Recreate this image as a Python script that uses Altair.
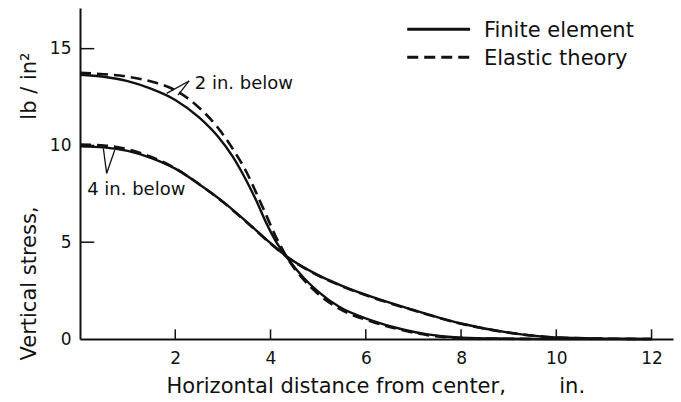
import altair as alt
import pandas as pd

FONT = "DejaVu Sans"
INK = "#111111"
NB = "\u00a0"

# Horizontal distance from center (in.) and vertical stress (lb/in^2)
fe2_x = [0, 0.5, 1.0, 1.5, 2.0, 2.5, 2.9, 3.2, 3.5, 3.7, 3.9, 4.1, 4.35, 4.7, 5.0, 5.45, 6.1, 6.8, 7.3, 8.0, 9.0, 10.0, 12.0]
fe2_y = [13.65, 13.55, 13.32, 12.92, 12.35, 11.45, 10.45, 9.45, 8.15, 7.15, 6.05, 5.1, 4.2, 3.15, 2.45, 1.65, 0.98, 0.48, 0.24, 0.07, 0.02, 0.0, 0.0]

el2_x = [0, 0.5, 1.0, 1.5, 2.0, 2.5, 2.9, 3.2, 3.5, 3.7, 3.9, 4.1, 4.35, 4.7, 5.0, 5.45, 6.1, 6.8, 7.3, 8.0, 9.0, 9.6]
el2_y = [13.75, 13.68, 13.55, 13.3, 12.85, 11.95, 10.9, 9.85, 8.6, 7.55, 6.45, 5.35, 4.2, 3.05, 2.33, 1.55, 0.92, 0.44, 0.2, 0.05, 0.01, 0.0]

fe4_x = [0, 0.5, 1.0, 1.5, 2.0, 2.5, 3.0, 3.5, 4.0, 4.35, 5.0, 5.5, 6.1, 7.0, 8.0, 9.0, 10.0, 11.0, 12.0]
fe4_y = [9.95, 9.9, 9.72, 9.35, 8.8, 8.0, 7.1, 6.05, 4.95, 4.25, 3.3, 2.75, 2.2, 1.5, 0.8, 0.33, 0.08, 0.02, 0.0]

el4_x = [0, 0.5, 1.0, 1.5, 2.0, 2.5, 3.0, 3.5, 4.0, 4.35, 5.0, 5.5, 6.1, 7.0, 8.0, 9.0, 10.0, 11.0, 12.0]
el4_y = [10.05, 10.0, 9.8, 9.4, 8.82, 8.0, 7.08, 6.03, 4.93, 4.23, 3.28, 2.73, 2.18, 1.48, 0.79, 0.33, 0.08, 0.02, 0.0]

methods = ["Finite element", "Elastic theory"]
dashes = [[1, 0], [11, 6]]

x_ticks = [2, 4, 6, 8, 10, 12]
y_ticks = [0, 5, 10, 15]
y_inner_ticks = [5, 10, 15]

# depth labels and their pointers
depth_labels = ["2 in. below", "4 in. below"]
depth_label_x = [2.41, 0.15]
depth_label_y = [13.17, 7.7]
pointer_x = [2.29, 2.29, 0.56, 0.56]
pointer_y = [13.33, 13.33, 8.56, 8.56]
pointer_x2 = [1.82, 2.06, 0.49, 0.73]
pointer_y2 = [12.69, 12.6, 9.85, 9.76]

# key entries
key_y = [16.0, 14.55]
key_x0 = 6.87
key_x1 = 8.19
key_xt = 8.48


def series(xs, ys, method, depth):
    return pd.DataFrame({"x": xs, "stress": ys, "method": method, "series": f"{method} {depth}"})


curves = pd.concat([
    series(fe2_x, fe2_y, methods[0], "2 in."),
    series(fe4_x, fe4_y, methods[0], "4 in."),
    series(el2_x, el2_y, methods[1], "2 in."),
    series(el4_x, el4_y, methods[1], "4 in."),
], ignore_index=True)

xs = alt.Scale(domain=[0, 12.45], nice=False, zero=False)
ys = alt.Scale(domain=[0, 17.1], nice=False)
dash_scale = alt.Scale(domain=methods, range=dashes)

x_axis = alt.Axis(
    values=x_ticks, format="d", tickSize=0, labelPadding=11,
    labelFont=FONT, labelFontSize=17, labelColor=INK,
    domainColor=INK, domainWidth=2, grid=False,
    title="Horizontal distance from center," + NB * 8 + "in.",
    titleFont=FONT, titleFontSize=21, titleFontWeight="normal", titleColor=INK,
    titleX=86, titleY=53, titleAlign="left", titleBaseline="alphabetic",
)
y_axis = alt.Axis(
    values=y_ticks, format="d", tickSize=0, labelPadding=9,
    labelFont=FONT, labelFontSize=17, labelColor=INK,
    domainColor=INK, domainWidth=2, grid=False,
    title="Vertical stress," + NB * 13 + "lb / in\u00b2",
    titleFont=FONT, titleFontSize=21, titleFontWeight="normal", titleColor=INK,
    titleX=-45, titleY=198, titleAngle=270, titleAlign="center", titleBaseline="alphabetic",
)

X = alt.X("x:Q", scale=xs, axis=x_axis)
Y = alt.Y("stress:Q", scale=ys, axis=y_axis)

solid = alt.Chart(curves[curves.method == methods[0]]).mark_line(
    interpolate="monotone", strokeWidth=2.4, color=INK
).encode(x=X, y=Y, detail="series:N")

dashed = alt.Chart(curves[curves.method == methods[1]]).mark_line(
    interpolate="monotone", strokeWidth=2.6, color=INK, strokeDash=dashes[1]
).encode(x=X, y=Y, detail="series:N")

# inward tick marks
xt_df = pd.DataFrame({"x": x_ticks, "stress": [0] * len(x_ticks), "y2": [0.5] * len(x_ticks)})
x_tick_marks = alt.Chart(xt_df).mark_rule(color=INK, strokeWidth=1.5).encode(
    x=X, y=Y, y2="y2:Q"
)
yt_df = pd.DataFrame({"x": [0] * len(y_inner_ticks), "x2": [0.3] * len(y_inner_ticks), "stress": y_inner_ticks})
y_tick_marks = alt.Chart(yt_df).mark_rule(color=INK, strokeWidth=1.5).encode(
    x=X, x2="x2:Q", y=Y
)

# depth annotations
lab_df = pd.DataFrame({"x": depth_label_x, "stress": depth_label_y, "label": depth_labels})
labels = alt.Chart(lab_df).mark_text(
    align="left", baseline="middle", font=FONT, fontSize=18, color=INK
).encode(x=X, y=Y, text="label:N")

ptr_df = pd.DataFrame({"x": pointer_x, "stress": pointer_y, "x2": pointer_x2, "y2": pointer_y2})
pointers = alt.Chart(ptr_df).mark_rule(color=INK, strokeWidth=1.3).encode(
    x=X, y=Y, x2="x2:Q", y2="y2:Q"
)

# key
key_df = pd.DataFrame({"method": methods, "stress": key_y, "x": [key_x0] * 2, "x2": [key_x1] * 2, "xt": [key_xt] * 2})
key_lines = alt.Chart(key_df).mark_rule(color=INK, strokeWidth=3).encode(
    x=X, x2="x2:Q", y=Y,
    strokeDash=alt.StrokeDash("method:N", scale=dash_scale, legend=None),
)
key_text = alt.Chart(key_df).mark_text(
    align="left", baseline="middle", font=FONT, fontSize=21, color=INK, dy=2
).encode(x=alt.X("xt:Q", scale=xs, axis=x_axis), y=Y, text="method:N")

chart = alt.layer(
    solid, dashed, x_tick_marks, y_tick_marks, pointers, labels, key_lines, key_text
).properties(
    width=593, height=331,
    autosize=alt.AutoSizeParams(type="none"),
    padding={"left": 80, "top": 8, "right": 8, "bottom": 63},
    background="white",
).configure_view(stroke=None)

chart.save("out.html", embed_options={"renderer": "svg", "actions": False})
